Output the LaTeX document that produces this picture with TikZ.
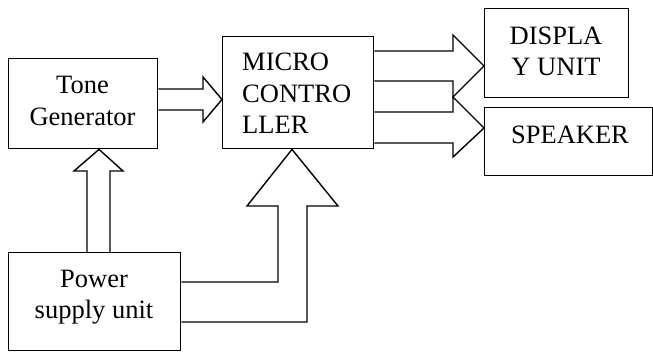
\documentclass[tikz,border=0pt]{standalone}
\usepackage{fontspec}
\setmainfont{Liberation Serif}
\usetikzlibrary{calc}
\begin{document}
\begin{tikzpicture}[x=1pt,y=-1pt,
  box/.style={draw,line width=1.4pt,rectangle,inner sep=0pt,anchor=north west},
  blockarrow/.style={draw,line width=1.4pt,line join=miter},
  lbl/.style={anchor=base,inner sep=0pt,font=\fontsize{26.5}{31}\selectfont}]
\useasboundingbox (0,0) rectangle (653,351);

% blocks
\node[box,minimum width=149pt,minimum height=90pt] (tone) at (8,58) {};
\node[box,minimum width=151pt,minimum height=112pt] (micro) at (222,36) {};
\node[box,minimum width=144pt,minimum height=89pt] (disp) at (484,8) {};
\node[box,minimum width=168pt,minimum height=68pt] (spk) at (484,107) {};
\node[box,minimum width=172pt,minimum height=98pt] (psu) at (8,252) {};

% block texts
\node[lbl] (t1) at (82.5,93) {Tone};
\node[lbl] (t2) at (82.5,125) {Generator};
\node[lbl,anchor=base west] (m1) at (242,70) {MICRO};
\node[lbl,anchor=base west] (m2) at (242,102) {CONTRO};
\node[lbl,anchor=base west] (m3) at (242,133) {LLER};
\node[lbl] (d1) at (556,44) {DISPLA};
\node[lbl] (d2) at (556,75) {Y UNIT};
\node[lbl] (s1) at (570,143) {SPEAKER};
\node[lbl] (p1) at (94,287) {Power};
\node[lbl] (p2) at (94,318) {supply unit};

% tone generator -> micro controller
\draw[blockarrow] (tone.east |- 0,89) -- (203,89) -- (203,77) -- (micro.west |- 0,99.5)
  -- (203,122) -- (203,110) -- (tone.east |- 0,110);

% micro controller -> display unit
\draw[blockarrow] (micro.east |- 0,51) -- (453,51) -- (453,35) -- (disp.west |- 0,66)
  -- (453,97) -- (453,81) -- (micro.east |- 0,81);

% micro controller -> speaker
\draw[blockarrow] (micro.east |- 0,112) -- (453,112) -- (453,97) -- (spk.west |- 0,128)
  -- (453,157) -- (453,143) -- (micro.east |- 0,143);

% power supply -> tone generator
\draw[blockarrow] (psu.north -| 87,0) -- (87,171) -- (74,171) -- (tone.south -| 99,0)
  -- (123,171) -- (110,171) -- (psu.north -| 110,0);

% power supply -> micro controller
\draw[blockarrow] (psu.east |- 0,282) -- (278,282) -- (278,206) -- (247,206)
  -- (micro.south -| 292,0) -- (338,206) -- (307,206) -- (307,322) -- (psu.east |- 0,322);
\end{tikzpicture}
\end{document}
